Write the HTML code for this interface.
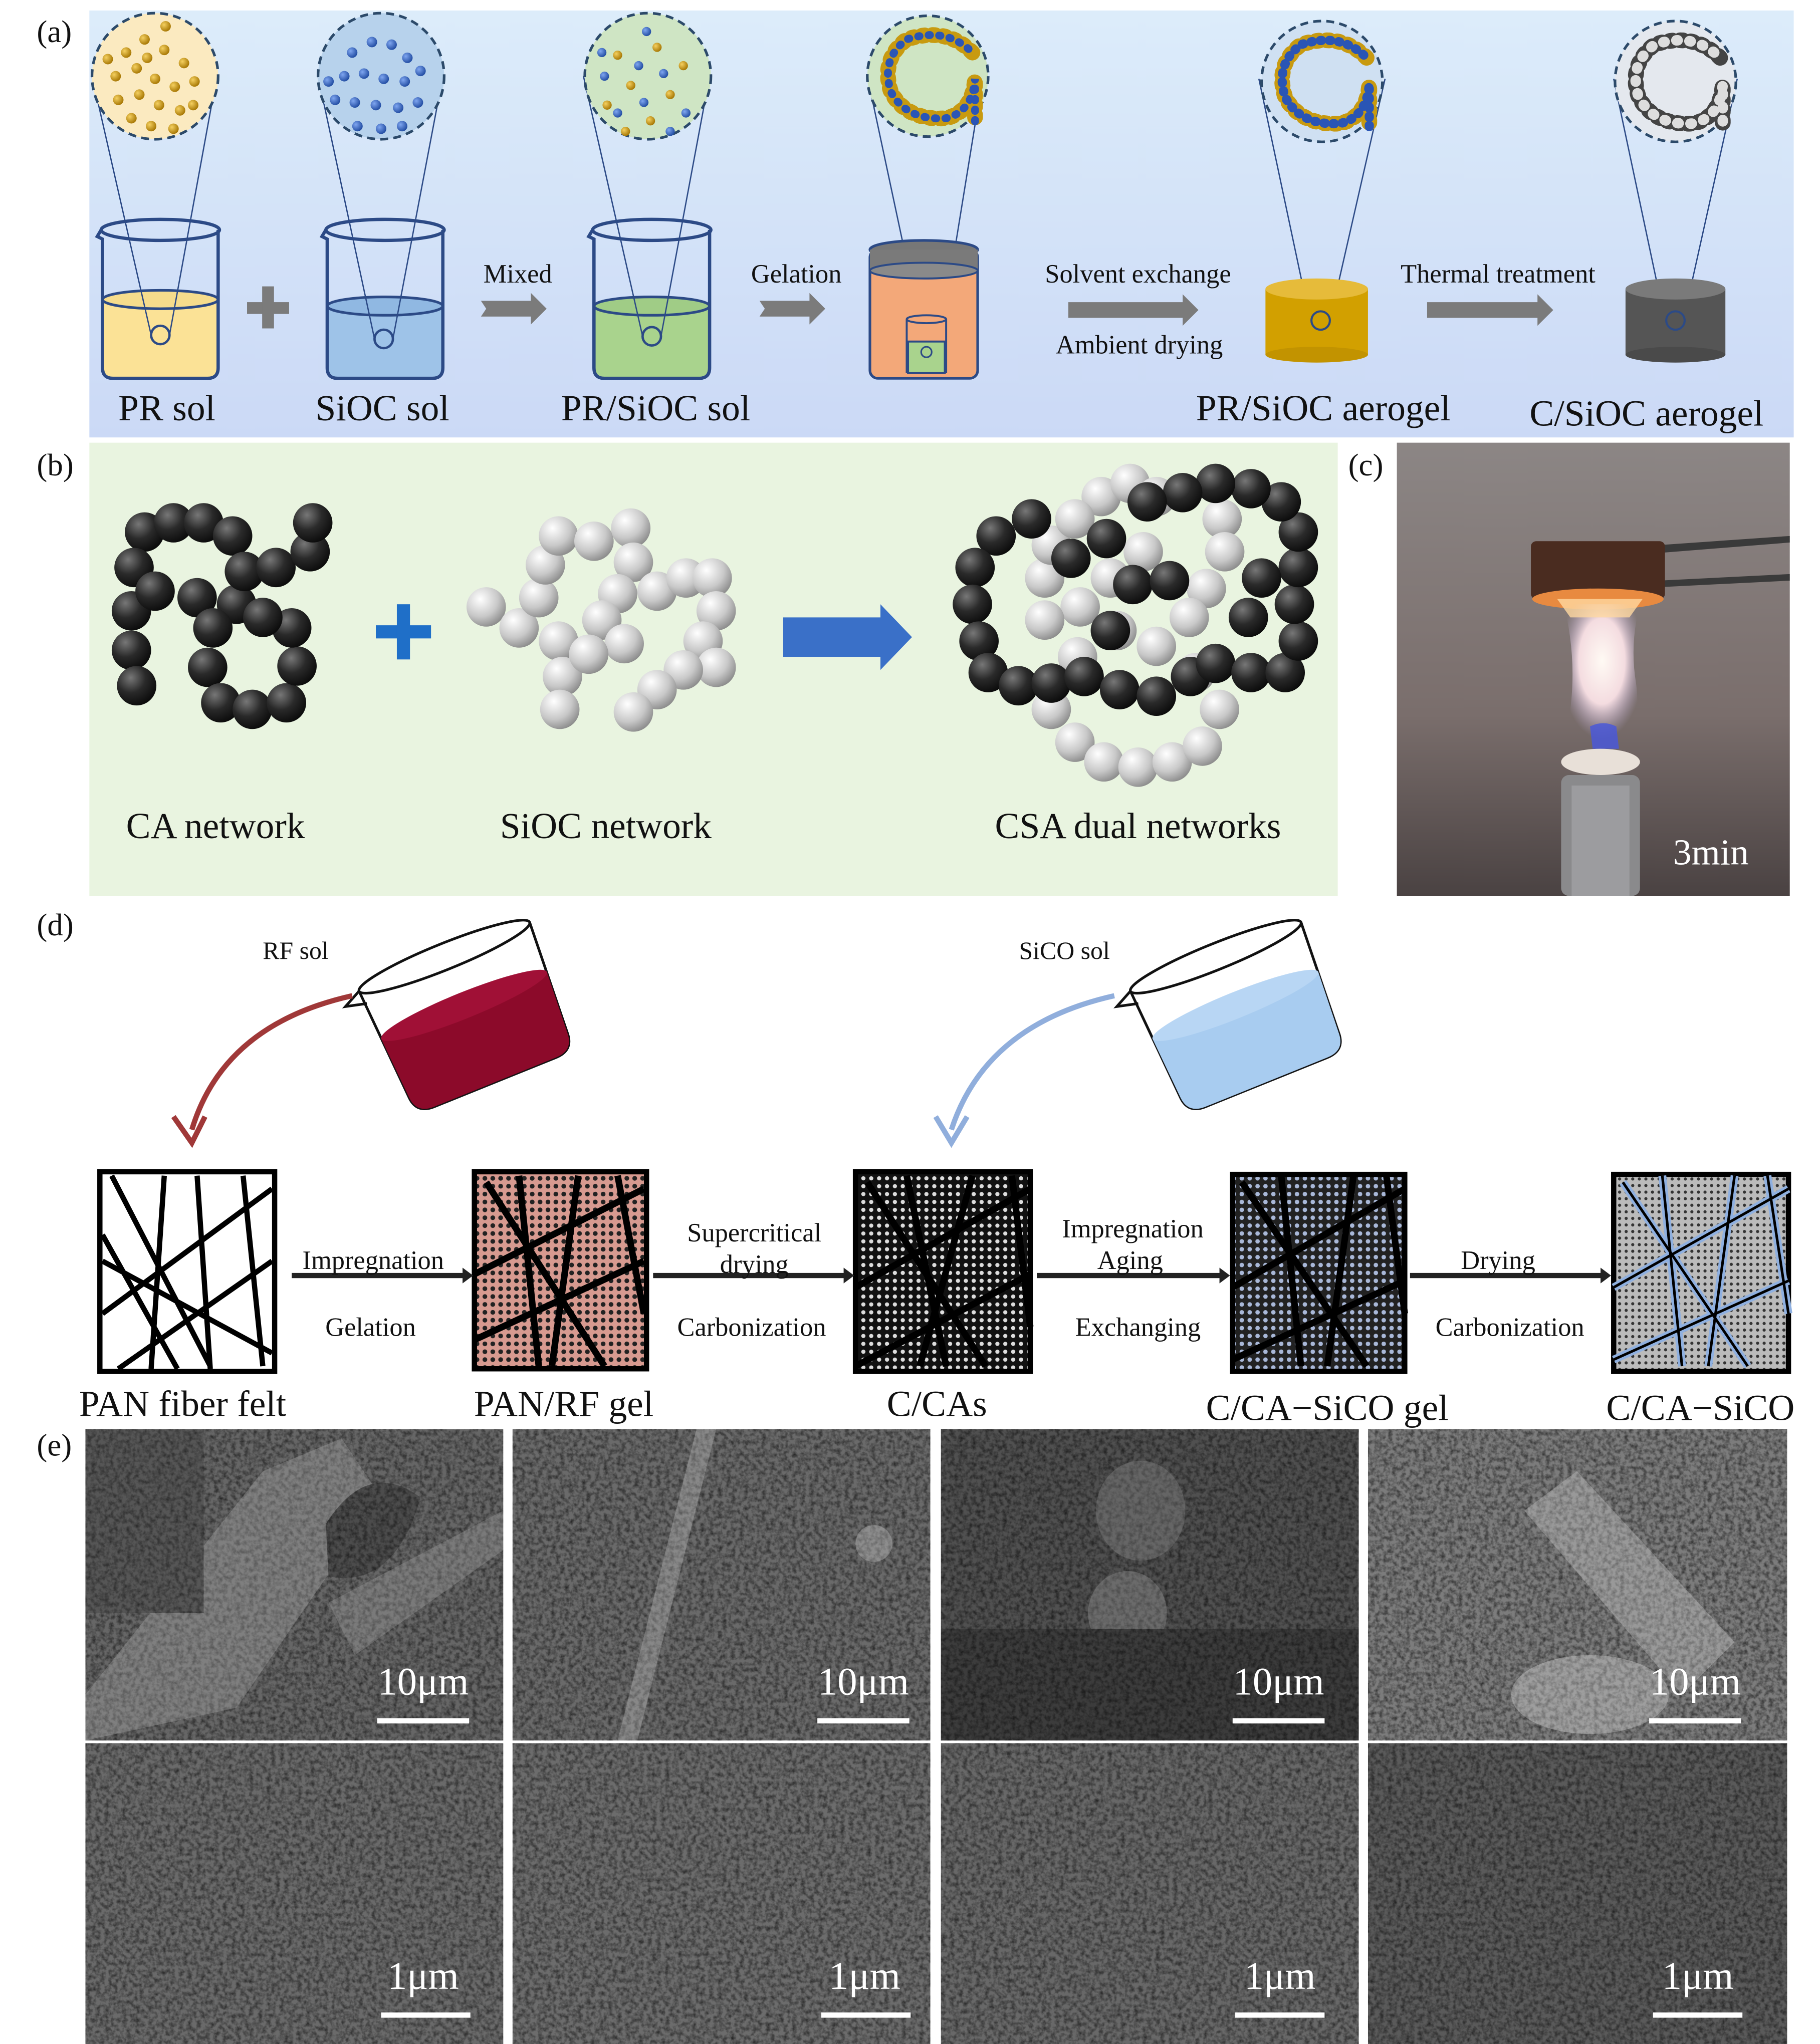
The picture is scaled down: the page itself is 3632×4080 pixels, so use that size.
<!DOCTYPE html>
<html><head><meta charset="utf-8"><style>
html,body{margin:0;padding:0;background:#fff;}
svg{display:block;}
text{font-family:"Liberation Serif",serif;fill:#111;}
</style></head><body>
<svg width="3632" height="4080" viewBox="0 0 1385 1556" preserveAspectRatio="none" xmlns="http://www.w3.org/2000/svg">
<defs>
<linearGradient id="ga" x1="0" y1="0" x2="0" y2="1"><stop offset="0" stop-color="#dcecfa"/><stop offset="1" stop-color="#cbd9f6"/></linearGradient>
<radialGradient id="gold" cx="0.35" cy="0.35" r="0.7"><stop offset="0" stop-color="#f5d060"/><stop offset="1" stop-color="#a47400"/></radialGradient>
<radialGradient id="blue" cx="0.35" cy="0.35" r="0.7"><stop offset="0" stop-color="#7fa6f0"/><stop offset="1" stop-color="#1f4aa0"/></radialGradient>
<radialGradient id="blk" cx="0.35" cy="0.3" r="0.75"><stop offset="0" stop-color="#777"/><stop offset="0.5" stop-color="#2a2a2a"/><stop offset="1" stop-color="#0a0a0a"/></radialGradient>
<radialGradient id="wht" cx="0.35" cy="0.3" r="0.75"><stop offset="0" stop-color="#ffffff"/><stop offset="0.6" stop-color="#c8c8c8"/><stop offset="1" stop-color="#8a8a8a"/></radialGradient>
<linearGradient id="photo" x1="0" y1="0" x2="0" y2="1"><stop offset="0" stop-color="#8c8685"/><stop offset="0.6" stop-color="#7a6e6c"/><stop offset="1" stop-color="#4a4242"/></linearGradient>
<radialGradient id="flame" cx="0.5" cy="0.4" r="0.55"><stop offset="0" stop-color="#fffaf4"/><stop offset="0.55" stop-color="#f4dce0"/><stop offset="1" stop-color="#b0a0c8" stop-opacity="0"/></radialGradient>
<pattern id="dots" width="6" height="6" patternUnits="userSpaceOnUse"><rect width="6" height="6" fill="#d79a90"/><circle cx="3" cy="3" r="1.8" fill="#222"/></pattern>
<pattern id="dotsw" width="6" height="6" patternUnits="userSpaceOnUse"><rect width="6" height="6" fill="#111"/><circle cx="3" cy="3" r="1.6" fill="#ddd"/></pattern>
<pattern id="dotsb" width="6" height="6" patternUnits="userSpaceOnUse"><rect width="6" height="6" fill="#222"/><circle cx="3" cy="3" r="1.7" fill="#a9b8d8"/></pattern>
<pattern id="dotsg" width="5" height="5" patternUnits="userSpaceOnUse"><rect width="5" height="5" fill="#bbb"/><circle cx="2.5" cy="2.5" r="1.2" fill="#333"/></pattern>
<filter id="noise" x="0" y="0" width="1" height="1" color-interpolation-filters="sRGB">
<feTurbulence type="fractalNoise" baseFrequency="0.3" numOctaves="3" seed="3" result="t"/>
<feColorMatrix in="t" type="matrix" values="1.1 0 0 0 0.3  1.1 0 0 0 0.3  1.1 0 0 0 0.3  0 0 0 0 1" result="g"/>
<feBlend in="g" in2="SourceGraphic" mode="multiply" result="b"/>
<feComposite in="b" in2="SourceGraphic" operator="in"/>
</filter>
<g id="beaker">
<path d="M-45,-55 L-48,-50 L-44,-48 L-44,50 Q-44,58 -36,58 L36,58 Q44,58 44,50 L44,-55" fill="none" stroke="#2c4a86" stroke-width="2.5"/>
<ellipse cx="0" cy="-55" rx="45" ry="8" fill="none" stroke="#2c4a86" stroke-width="2.5"/>
</g>
</defs>

<rect x="68" y="8" width="1297" height="325" fill="url(#ga)"/>
<text x="28" y="32" font-size="24">(a)</text>
<g>
<path d="M78,228 L78,280 Q78,288 86,288 L158,288 Q166,288 166,280 L166,228 Z" fill="#fbe296"/>
<ellipse cx="122" cy="228" rx="44" ry="7" fill="#f6dc8c" stroke="#2c4a86" stroke-width="2"/>
<use href="#beaker" x="122" y="230"/>
<path d="M249,233 L249,280 Q249,288 257,288 L329,288 Q337,288 337,280 L337,233 Z" fill="#9ec3e8"/>
<ellipse cx="293" cy="233" rx="44" ry="7" fill="#90b8e2" stroke="#2c4a86" stroke-width="2"/>
<use href="#beaker" x="293" y="230"/>
<path d="M452,233 L452,280 Q452,288 460,288 L532,288 Q540,288 540,280 L540,233 Z" fill="#a9d38d"/>
<ellipse cx="496" cy="233" rx="44" ry="7" fill="#a0cc86" stroke="#2c4a86" stroke-width="2"/>
<use href="#beaker" x="496" y="230"/>
</g>
<circle cx="122" cy="255" r="7" fill="none" stroke="#2c4a86" stroke-width="1.8"/>
<circle cx="292" cy="258" r="7" fill="none" stroke="#2c4a86" stroke-width="1.8"/>
<circle cx="496" cy="256" r="7" fill="none" stroke="#2c4a86" stroke-width="1.8"/>
<g stroke="#2c4a86" stroke-width="1" fill="none">
<path d="M70,58 L115,255 M165,58 L129,255"/>
<path d="M242,58 L285,258 M337,58 L299,258"/>
<path d="M444,58 L489,256 M540,58 L503,256"/>
<path d="M660,58 L702,255 M748,58 L716,255"/>
<path d="M958,60 L997,244 M1054,60 L1012,244"/>
<path d="M1228,60 L1267,244 M1322,60 L1281,244"/>
</g>
<circle cx="118" cy="58" r="48" fill="#fbeac0" stroke="#2c4a6a" stroke-width="2" stroke-dasharray="6,4"/>
<circle cx="290" cy="58" r="48" fill="#b7d2ec" stroke="#2c4a6a" stroke-width="2" stroke-dasharray="6,4"/>
<circle cx="493" cy="58" r="48" fill="#cfe5c4" stroke="#2c4a6a" stroke-width="2" stroke-dasharray="6,4"/>
<circle cx="706" cy="58" r="46" fill="#cfe5c4" stroke="#2c4a6a" stroke-width="2" stroke-dasharray="6,4"/>
<circle cx="1006" cy="62" r="46" fill="#cfe0f2" stroke="#2c4a6a" stroke-width="2" stroke-dasharray="6,4"/>
<circle cx="1275" cy="62" r="46" fill="#e4e8ee" stroke="#2c4a6a" stroke-width="2" stroke-dasharray="6,4"/>
<g fill="url(#gold)">
<circle cx="96" cy="40" r="4"/><circle cx="110" cy="30" r="4"/><circle cx="125" cy="38" r="4"/><circle cx="140" cy="48" r="4"/><circle cx="88" cy="58" r="4"/><circle cx="104" cy="52" r="4"/><circle cx="118" cy="60" r="4"/><circle cx="133" cy="66" r="4"/><circle cx="148" cy="62" r="4"/><circle cx="90" cy="76" r="4"/><circle cx="106" cy="72" r="4"/><circle cx="121" cy="80" r="4"/><circle cx="137" cy="84" r="4"/><circle cx="100" cy="90" r="4"/><circle cx="115" cy="96" r="4"/><circle cx="132" cy="98" r="4"/><circle cx="82" cy="45" r="4"/><circle cx="126" cy="20" r="4"/><circle cx="147" cy="80" r="4"/><circle cx="112" cy="44" r="4"/>
<circle cx="470" cy="42" r="3.5"/><circle cx="500" cy="36" r="3.5"/><circle cx="480" cy="65" r="3.5"/><circle cx="510" cy="72" r="3.5"/><circle cx="462" cy="80" r="3.5"/><circle cx="520" cy="50" r="3.5"/><circle cx="495" cy="92" r="3.5"/><circle cx="476" cy="100" r="3.5"/>
</g>
<g fill="url(#blue)">
<circle cx="268" cy="40" r="4"/><circle cx="283" cy="32" r="4"/><circle cx="298" cy="34" r="4"/><circle cx="310" cy="44" r="4"/><circle cx="262" cy="58" r="4"/><circle cx="277" cy="56" r="4"/><circle cx="292" cy="60" r="4"/><circle cx="308" cy="62" r="4"/><circle cx="320" cy="54" r="4"/><circle cx="255" cy="76" r="4"/><circle cx="270" cy="78" r="4"/><circle cx="286" cy="80" r="4"/><circle cx="303" cy="82" r="4"/><circle cx="318" cy="78" r="4"/><circle cx="272" cy="96" r="4"/><circle cx="290" cy="98" r="4"/><circle cx="306" cy="96" r="4"/><circle cx="250" cy="62" r="4"/>
<circle cx="492" cy="24" r="3.5"/><circle cx="486" cy="50" r="3.5"/><circle cx="460" cy="58" r="3.5"/><circle cx="505" cy="56" r="3.5"/><circle cx="490" cy="78" r="3.5"/><circle cx="470" cy="86" r="3.5"/><circle cx="522" cy="86" r="3.5"/><circle cx="510" cy="100" r="3.5"/><circle cx="458" cy="40" r="3.5"/>
</g>
<g>
<path d="M740,40 Q720,20 690,30 Q670,45 678,70 Q690,92 720,90 Q740,85 742,60 L742,95" fill="none" stroke="#c89a10" stroke-width="12" stroke-dasharray="2,6" stroke-linecap="round"/>
<path d="M740,40 Q720,20 690,30 Q670,45 678,70 Q690,92 720,90 Q740,85 742,60 L742,95" fill="none" stroke="#2a55b5" stroke-width="6" stroke-dasharray="1,7" stroke-dashoffset="4" stroke-linecap="round"/>
<path d="M1040,44 Q1020,24 990,34 Q970,49 978,74 Q990,96 1020,94 Q1040,89 1042,64 L1042,99" fill="none" stroke="#c89a10" stroke-width="12" stroke-dasharray="2,6" stroke-linecap="round"/>
<path d="M1040,44 Q1020,24 990,34 Q970,49 978,74 Q990,96 1020,94 Q1040,89 1042,64 L1042,99" fill="none" stroke="#2a55b5" stroke-width="7" stroke-dasharray="1,6" stroke-dashoffset="4" stroke-linecap="round"/>
<path d="M1309,44 Q1289,24 1259,34 Q1239,49 1247,74 Q1259,96 1289,94 Q1309,89 1311,64 L1311,99" fill="none" stroke="#444" stroke-width="12" stroke-dasharray="2,6" stroke-linecap="round"/>
<path d="M1309,44 Q1289,24 1259,34 Q1239,49 1247,74 Q1259,96 1289,94 Q1309,89 1311,64 L1311,99" fill="none" stroke="#ddd" stroke-width="8" stroke-dasharray="1,9" stroke-dashoffset="4" stroke-linecap="round"/>
</g>
<rect x="662" y="190" width="82" height="98" rx="6" fill="#f3a879" stroke="#2c4a86" stroke-width="2"/>
<ellipse cx="703" cy="190" rx="41" ry="7" fill="#777" stroke="#2c4a86" stroke-width="2"/>
<rect x="662" y="190" width="82" height="16" fill="#7a7a7a"/>
<ellipse cx="703" cy="206" rx="41" ry="6" fill="#8a8a8a" stroke="#2c4a86" stroke-width="1.5"/>
<rect x="691" y="260" width="28" height="24" fill="#a9d38d" stroke="#2c4a86" stroke-width="1.5"/>
<ellipse cx="705" cy="243" rx="15" ry="3" fill="none" stroke="#2c4a86" stroke-width="1.5"/>
<path d="M690,243 L690,284 M720,243 L720,284" stroke="#2c4a86" stroke-width="1.5"/>
<circle cx="705" cy="268" r="4" fill="none" stroke="#2c4a86" stroke-width="1.2"/>
<rect x="963" y="220" width="78" height="50" fill="#d2a000"/>
<ellipse cx="1002" cy="270" rx="39" ry="6" fill="#c29300"/>
<ellipse cx="1002" cy="220" rx="39" ry="8" fill="#e6bb3a"/>
<circle cx="1005" cy="244" r="7" fill="none" stroke="#2c4a86" stroke-width="1.6"/>
<rect x="1237" y="220" width="76" height="50" fill="#555"/>
<ellipse cx="1275" cy="270" rx="38" ry="6" fill="#4a4a4a"/>
<ellipse cx="1275" cy="220" rx="38" ry="8" fill="#7a7a7a"/>
<circle cx="1275" cy="244" r="7" fill="none" stroke="#2c4a86" stroke-width="1.6"/>
<rect x="188" y="230" width="32" height="9" fill="#7b7b7b"/><rect x="199.5" y="218" width="9" height="32" fill="#7b7b7b"/>
<g fill="#7b7b7b">
<path d="M366,229 L404,229 L404,223 L416,235 L404,247 L404,241 L366,241 L370,235Z"/>
<path d="M578,229 L616,229 L616,223 L628,235 L616,247 L616,241 L578,241 L582,235Z"/>
<path d="M813,230 L900,230 L900,224 L912,236 L900,248 L900,242 L813,242Z"/>
<path d="M1086,230 L1170,230 L1170,224 L1182,236 L1170,248 L1170,242 L1086,242Z"/>
</g>
<text x="394" y="215" font-size="20" text-anchor="middle">Mixed</text>
<text x="606" y="215" font-size="20" text-anchor="middle">Gelation</text>
<text x="866" y="215" font-size="20" text-anchor="middle">Solvent exchange</text>
<text x="867" y="269" font-size="20" text-anchor="middle">Ambient drying</text>
<text x="1140" y="215" font-size="20" text-anchor="middle">Thermal treatment</text>
<text x="127" y="320" font-size="28" text-anchor="middle">PR sol</text>
<text x="291" y="320" font-size="28" text-anchor="middle">SiOC sol</text>
<text x="499" y="320" font-size="28" text-anchor="middle">PR/SiOC sol</text>
<text x="1007" y="320" font-size="28" text-anchor="middle">PR/SiOC aerogel</text>
<text x="1253" y="324" font-size="28" text-anchor="middle">C/SiOC aerogel</text>

<text x="28" y="362" font-size="24">(b)</text>
<rect x="68" y="337" width="950" height="345" fill="#e9f4e0"/>
<g fill="url(#blk)">
<circle cx="110" cy="405" r="15"/><circle cx="132" cy="398" r="15"/><circle cx="155" cy="398" r="15"/><circle cx="177" cy="408" r="15"/><circle cx="102" cy="432" r="15"/><circle cx="100" cy="465" r="15"/><circle cx="100" cy="495" r="15"/><circle cx="104" cy="522" r="15"/><circle cx="118" cy="450" r="15"/><circle cx="150" cy="455" r="15"/><circle cx="180" cy="460" r="15"/><circle cx="186" cy="435" r="15"/><circle cx="210" cy="432" r="15"/><circle cx="236" cy="420" r="15"/><circle cx="238" cy="398" r="15"/><circle cx="162" cy="478" r="15"/><circle cx="158" cy="508" r="15"/><circle cx="168" cy="535" r="15"/><circle cx="192" cy="540" r="15"/><circle cx="218" cy="535" r="15"/><circle cx="226" cy="507" r="15"/><circle cx="222" cy="478" r="15"/><circle cx="200" cy="470" r="15"/>
</g>
<g fill="url(#wht)">
<circle cx="370" cy="462" r="15"/><circle cx="395" cy="478" r="15"/><circle cx="410" cy="455" r="15"/><circle cx="415" cy="430" r="15"/><circle cx="425" cy="408" r="15"/><circle cx="452" cy="412" r="15"/><circle cx="480" cy="402" r="15"/><circle cx="482" cy="428" r="15"/><circle cx="470" cy="452" r="15"/><circle cx="458" cy="472" r="15"/><circle cx="425" cy="488" r="15"/><circle cx="428" cy="515" r="15"/><circle cx="426" cy="540" r="15"/><circle cx="500" cy="450" r="15"/><circle cx="522" cy="440" r="15"/><circle cx="542" cy="440" r="15"/><circle cx="545" cy="465" r="15"/><circle cx="535" cy="488" r="15"/><circle cx="545" cy="508" r="15"/><circle cx="520" cy="510" r="15"/><circle cx="500" cy="525" r="15"/><circle cx="482" cy="542" r="15"/><circle cx="475" cy="490" r="15"/><circle cx="448" cy="498" r="15"/>
</g>
<rect x="286" y="476" width="42" height="10" fill="#1f6fc8"/><rect x="302" y="460" width="10" height="42" fill="#1f6fc8"/>
<path d="M596,470 L670,470 L670,460 L694,485 L670,510 L670,500 L596,500Z" fill="#3a70c8"/>
<g fill="url(#wht)">
<circle cx="838" cy="378" r="15"/><circle cx="860" cy="368" r="15"/><circle cx="880" cy="378" r="15"/><circle cx="930" cy="395" r="15"/><circle cx="932" cy="420" r="15"/><circle cx="918" cy="448" r="15"/><circle cx="905" cy="470" r="15"/><circle cx="880" cy="492" r="15"/><circle cx="850" cy="480" r="15"/><circle cx="822" cy="462" r="15"/><circle cx="795" cy="472" r="15"/><circle cx="795" cy="440" r="15"/><circle cx="800" cy="415" r="15"/><circle cx="818" cy="395" r="15"/><circle cx="870" cy="420" r="15"/><circle cx="845" cy="440" r="15"/><circle cx="800" cy="540" r="15"/><circle cx="818" cy="565" r="15"/><circle cx="840" cy="580" r="15"/><circle cx="866" cy="584" r="15"/><circle cx="892" cy="580" r="15"/><circle cx="915" cy="568" r="15"/><circle cx="928" cy="540" r="15"/><circle cx="910" cy="512" r="15"/><circle cx="820" cy="500" r="15"/>
</g>
<g fill="url(#blk)">
<circle cx="758" cy="408" r="15"/><circle cx="785" cy="395" r="15"/><circle cx="742" cy="432" r="15"/><circle cx="740" cy="460" r="15"/><circle cx="745" cy="488" r="15"/><circle cx="752" cy="512" r="15"/><circle cx="775" cy="522" r="15"/><circle cx="800" cy="520" r="15"/><circle cx="825" cy="515" r="15"/><circle cx="852" cy="525" r="15"/><circle cx="880" cy="530" r="15"/><circle cx="906" cy="515" r="15"/><circle cx="925" cy="505" r="15"/><circle cx="952" cy="512" r="15"/><circle cx="978" cy="512" r="15"/><circle cx="988" cy="488" r="15"/><circle cx="985" cy="460" r="15"/><circle cx="988" cy="432" r="15"/><circle cx="988" cy="405" r="15"/><circle cx="975" cy="382" r="15"/><circle cx="952" cy="372" r="15"/><circle cx="925" cy="368" r="15"/><circle cx="900" cy="375" r="15"/><circle cx="873" cy="382" r="15"/><circle cx="815" cy="425" r="15"/><circle cx="842" cy="410" r="15"/><circle cx="862" cy="445" r="15"/><circle cx="890" cy="442" r="15"/><circle cx="960" cy="440" r="15"/><circle cx="950" cy="470" r="15"/><circle cx="845" cy="480" r="15"/>
</g>
<text x="164" y="638" font-size="28" text-anchor="middle">CA network</text>
<text x="461" y="638" font-size="28" text-anchor="middle">SiOC network</text>
<text x="866" y="638" font-size="28" text-anchor="middle">CSA dual networks</text>

<text x="1026" y="362" font-size="24">(c)</text>
<rect x="1063" y="337" width="299" height="345" fill="url(#photo)"/>
<path d="M1262,415 L1362,408 L1362,413 L1262,421Z M1262,442 L1362,437 L1362,442 L1262,447Z" fill="#3a3a3a"/>
<rect x="1165" y="412" width="102" height="44" rx="4" fill="#4a2c20"/>
<ellipse cx="1216" cy="456" rx="50" ry="8" fill="#e88a40"/>
<path d="M1190,460 Q1200,500 1195,540 Q1200,565 1230,568 Q1250,560 1245,520 Q1240,490 1248,460Z" fill="url(#flame)"/>
<path d="M1185,456 L1250,456 L1240,470 L1195,470Z" fill="#ffd8a0" opacity="0.8"/>
<path d="M1210,553 Q1220,548 1230,553 L1232,570 L1212,570Z" fill="#4a58d8" opacity="0.85"/>
<ellipse cx="1218" cy="580" rx="30" ry="10" fill="#e8e0d8"/>
<rect x="1188" y="590" width="60" height="92" rx="6" fill="#8a8a8c"/>
<rect x="1196" y="598" width="44" height="84" fill="#a8a8ac" opacity="0.6"/>
<text x="1302" y="658" font-size="28" text-anchor="middle" style="fill:#fff">3min</text>

<text x="28" y="712" font-size="24">(d)</text>
<text x="225" y="730" font-size="19" text-anchor="middle">RF sol</text>
<text x="810" y="730" font-size="19" text-anchor="middle">SiCO sol</text>
<g transform="translate(355,770) rotate(-22)">
<path d="M-70,-45 L-65,45 Q-64,58 -50,58 L50,58 Q64,58 65,45 L70,-45" fill="none" stroke="#111" stroke-width="2"/>
<path d="M-68,-5 L-65,45 Q-64,58 -50,58 L50,58 Q64,58 65,45 L68,-5 Q0,10 -68,-5Z" fill="#8c0a2a"/>
<ellipse cx="0" cy="-5" rx="68" ry="10" fill="#a01036"/>
<ellipse cx="0" cy="-45" rx="70" ry="10" fill="none" stroke="#111" stroke-width="2"/>
<path d="M-70,-45 L-84,-38 L-68,-34" fill="none" stroke="#111" stroke-width="2"/>
</g>
<g transform="translate(942,770) rotate(-22)">
<path d="M-70,-45 L-65,45 Q-64,58 -50,58 L50,58 Q64,58 65,45 L70,-45" fill="none" stroke="#111" stroke-width="2"/>
<path d="M-68,-5 L-65,45 Q-64,58 -50,58 L50,58 Q64,58 65,45 L68,-5 Q0,10 -68,-5Z" fill="#a8ccf0"/>
<ellipse cx="0" cy="-5" rx="68" ry="10" fill="#b8d6f4"/>
<ellipse cx="0" cy="-45" rx="70" ry="10" fill="none" stroke="#111" stroke-width="2"/>
<path d="M-70,-45 L-84,-38 L-68,-34" fill="none" stroke="#111" stroke-width="2"/>
</g>
<path d="M268,758 Q170,780 146,860" fill="none" stroke="#a03838" stroke-width="4"/>
<path d="M132,850 L146,870 L156,850" fill="none" stroke="#a03838" stroke-width="4"/>
<path d="M848,758 Q750,780 724,860" fill="none" stroke="#90aedc" stroke-width="4"/>
<path d="M712,850 L724,870 L736,850" fill="none" stroke="#90aedc" stroke-width="4"/>
<rect x="76" y="892" width="133" height="152" fill="#fff" stroke="#000" stroke-width="4"/>
<g stroke="#000" stroke-width="4">
<path d="M85,895 L160,1040 M125,895 L115,1042 M150,895 L160,1042 M185,895 L200,1040 M78,940 L135,1042 M78,1000 L207,905 M90,1042 L207,960 M78,960 L207,1030"/>
</g>
<rect x="361" y="892" width="131" height="150" fill="url(#dots)" stroke="#000" stroke-width="4"/>
<g stroke="#000" stroke-width="5"><path d="M370,900 L460,1040 M395,895 L410,1040 M361,970 L490,905 M361,1020 L490,960 M440,895 L420,1040 M470,895 L490,1000"/></g>
<rect x="651" y="892" width="133" height="152" fill="url(#dotsw)" stroke="#000" stroke-width="4"/>
<g stroke="#000" stroke-width="5"><path d="M660,900 L750,1040 M690,895 L720,1040 M651,980 L784,905 M651,1040 L784,970 M740,895 L700,1040 M770,895 L784,1010"/></g>
<rect x="938" y="894" width="131" height="150" fill="url(#dotsb)" stroke="#000" stroke-width="4"/>
<g stroke="#000" stroke-width="5"><path d="M945,900 L1040,1040 M975,895 L990,1040 M938,980 L1069,905 M938,1035 L1069,975 M1030,895 L1010,1040 M1055,895 L1069,1000"/></g>
<rect x="1228" y="894" width="133" height="150" fill="url(#dotsg)" stroke="#000" stroke-width="4"/>
<g stroke="#8fb0e0" stroke-width="6"><path d="M1235,900 L1330,1040 M1265,895 L1280,1040 M1228,980 L1361,905 M1228,1035 L1361,975 M1320,895 L1300,1040 M1345,895 L1361,1000"/></g>
<g stroke="#000" stroke-width="2"><path d="M1235,900 L1330,1040 M1265,895 L1280,1040 M1228,980 L1361,905 M1228,1035 L1361,975 M1320,895 L1300,1040 M1345,895 L1361,1000"/></g>
<g stroke="#222" stroke-width="4"><path d="M222,971 L354,971 M497,971 L644,971 M789,971 L930,971 M1073,971 L1220,971"/></g>
<g fill="#222"><path d="M352,965 L360,971 L352,977Z M642,965 L650,971 L642,977Z M928,965 L936,971 L928,977Z M1218,965 L1226,971 L1218,977Z"/></g>
<text x="284" y="966" font-size="20" text-anchor="middle">Impregnation</text>
<text x="282" y="1017" font-size="20" text-anchor="middle">Gelation</text>
<text x="574" y="945" font-size="20" text-anchor="middle">Supercritical</text>
<text x="574" y="969" font-size="20" text-anchor="middle">drying</text>
<text x="572" y="1017" font-size="20" text-anchor="middle">Carbonization</text>
<text x="862" y="942" font-size="20" text-anchor="middle">Impregnation</text>
<text x="860" y="966" font-size="20" text-anchor="middle">Aging</text>
<text x="866" y="1017" font-size="20" text-anchor="middle">Exchanging</text>
<text x="1140" y="966" font-size="20" text-anchor="middle">Drying</text>
<text x="1149" y="1017" font-size="20" text-anchor="middle">Carbonization</text>
<text x="139" y="1078" font-size="28" text-anchor="middle">PAN fiber felt</text>
<text x="429" y="1078" font-size="28" text-anchor="middle">PAN/RF gel</text>
<text x="713" y="1078" font-size="28" text-anchor="middle">C/CAs</text>
<text x="1010" y="1081" font-size="28" text-anchor="middle">C/CA−SiCO gel</text>
<text x="1294" y="1081" font-size="28" text-anchor="middle">C/CA−SiCO</text>

<text x="28" y="1108" font-size="24">(e)</text>
<g filter="url(#noise)"><rect x="65" y="1088" width="318" height="237" fill="#666"/></g>
<g filter="url(#noise)"><rect x="390" y="1088" width="318" height="237" fill="#6a6a6a"/></g>
<g filter="url(#noise)"><rect x="716" y="1088" width="318" height="237" fill="#505050"/></g>
<g filter="url(#noise)"><rect x="1041" y="1088" width="319" height="237" fill="#7c7c7c"/></g>
<g filter="url(#noise)"><rect x="65" y="1327" width="318" height="235" fill="#6a6a6a"/></g>
<g filter="url(#noise)"><rect x="390" y="1327" width="318" height="235" fill="#6c6c6c"/></g>
<g filter="url(#noise)"><rect x="716" y="1327" width="318" height="235" fill="#686868"/></g>
<g filter="url(#noise)"><rect x="1041" y="1327" width="319" height="235" fill="#5a5a5a"/></g>
<g opacity="0.3">
<path d="M65,1290 L200,1120 L260,1095 L290,1140 L180,1300 L65,1325Z" fill="#bbb"/>
<path d="M250,1220 L383,1150 L383,1180 L270,1260Z" fill="#aaa"/>
<rect x="65" y="1088" width="90" height="140" fill="#333"/>
<path d="M248,1160 Q280,1110 320,1140 Q300,1210 250,1200Z" fill="#111"/>
<path d="M470,1325 L530,1088 L545,1088 L485,1325Z" fill="#ccc"/>
<circle cx="665" cy="1175" r="14" fill="#ddd"/>
<ellipse cx="868" cy="1150" rx="34" ry="38" fill="#999"/>
<ellipse cx="858" cy="1228" rx="30" ry="32" fill="#aaa"/>
<rect x="716" y="1240" width="318" height="85" fill="#111"/>
<path d="M1160,1150 L1200,1120 L1320,1250 L1280,1290Z" fill="#ddd"/>
<ellipse cx="1210" cy="1290" rx="60" ry="30" fill="#eee"/>
</g>
<g fill="#fff"><text x="322" y="1290" font-size="30" text-anchor="middle" style="fill:#fff">10μm</text>
<text x="657" y="1290" font-size="30" text-anchor="middle" style="fill:#fff">10μm</text>
<text x="973" y="1290" font-size="30" text-anchor="middle" style="fill:#fff">10μm</text>
<text x="1290" y="1290" font-size="30" text-anchor="middle" style="fill:#fff">10μm</text>
<text x="322" y="1514" font-size="30" text-anchor="middle" style="fill:#fff">1μm</text>
<text x="658" y="1514" font-size="30" text-anchor="middle" style="fill:#fff">1μm</text>
<text x="974" y="1514" font-size="30" text-anchor="middle" style="fill:#fff">1μm</text>
<text x="1292" y="1514" font-size="30" text-anchor="middle" style="fill:#fff">1μm</text>
<rect x="287" y="1308" width="70" height="4"/><rect x="622" y="1308" width="70" height="4"/><rect x="938" y="1308" width="70" height="4"/><rect x="1255" y="1308" width="70" height="4"/>
<rect x="290" y="1532" width="68" height="4"/><rect x="625" y="1532" width="68" height="4"/><rect x="940" y="1532" width="68" height="4"/><rect x="1258" y="1532" width="68" height="4"/>
</g>
</svg>
</body></html>
